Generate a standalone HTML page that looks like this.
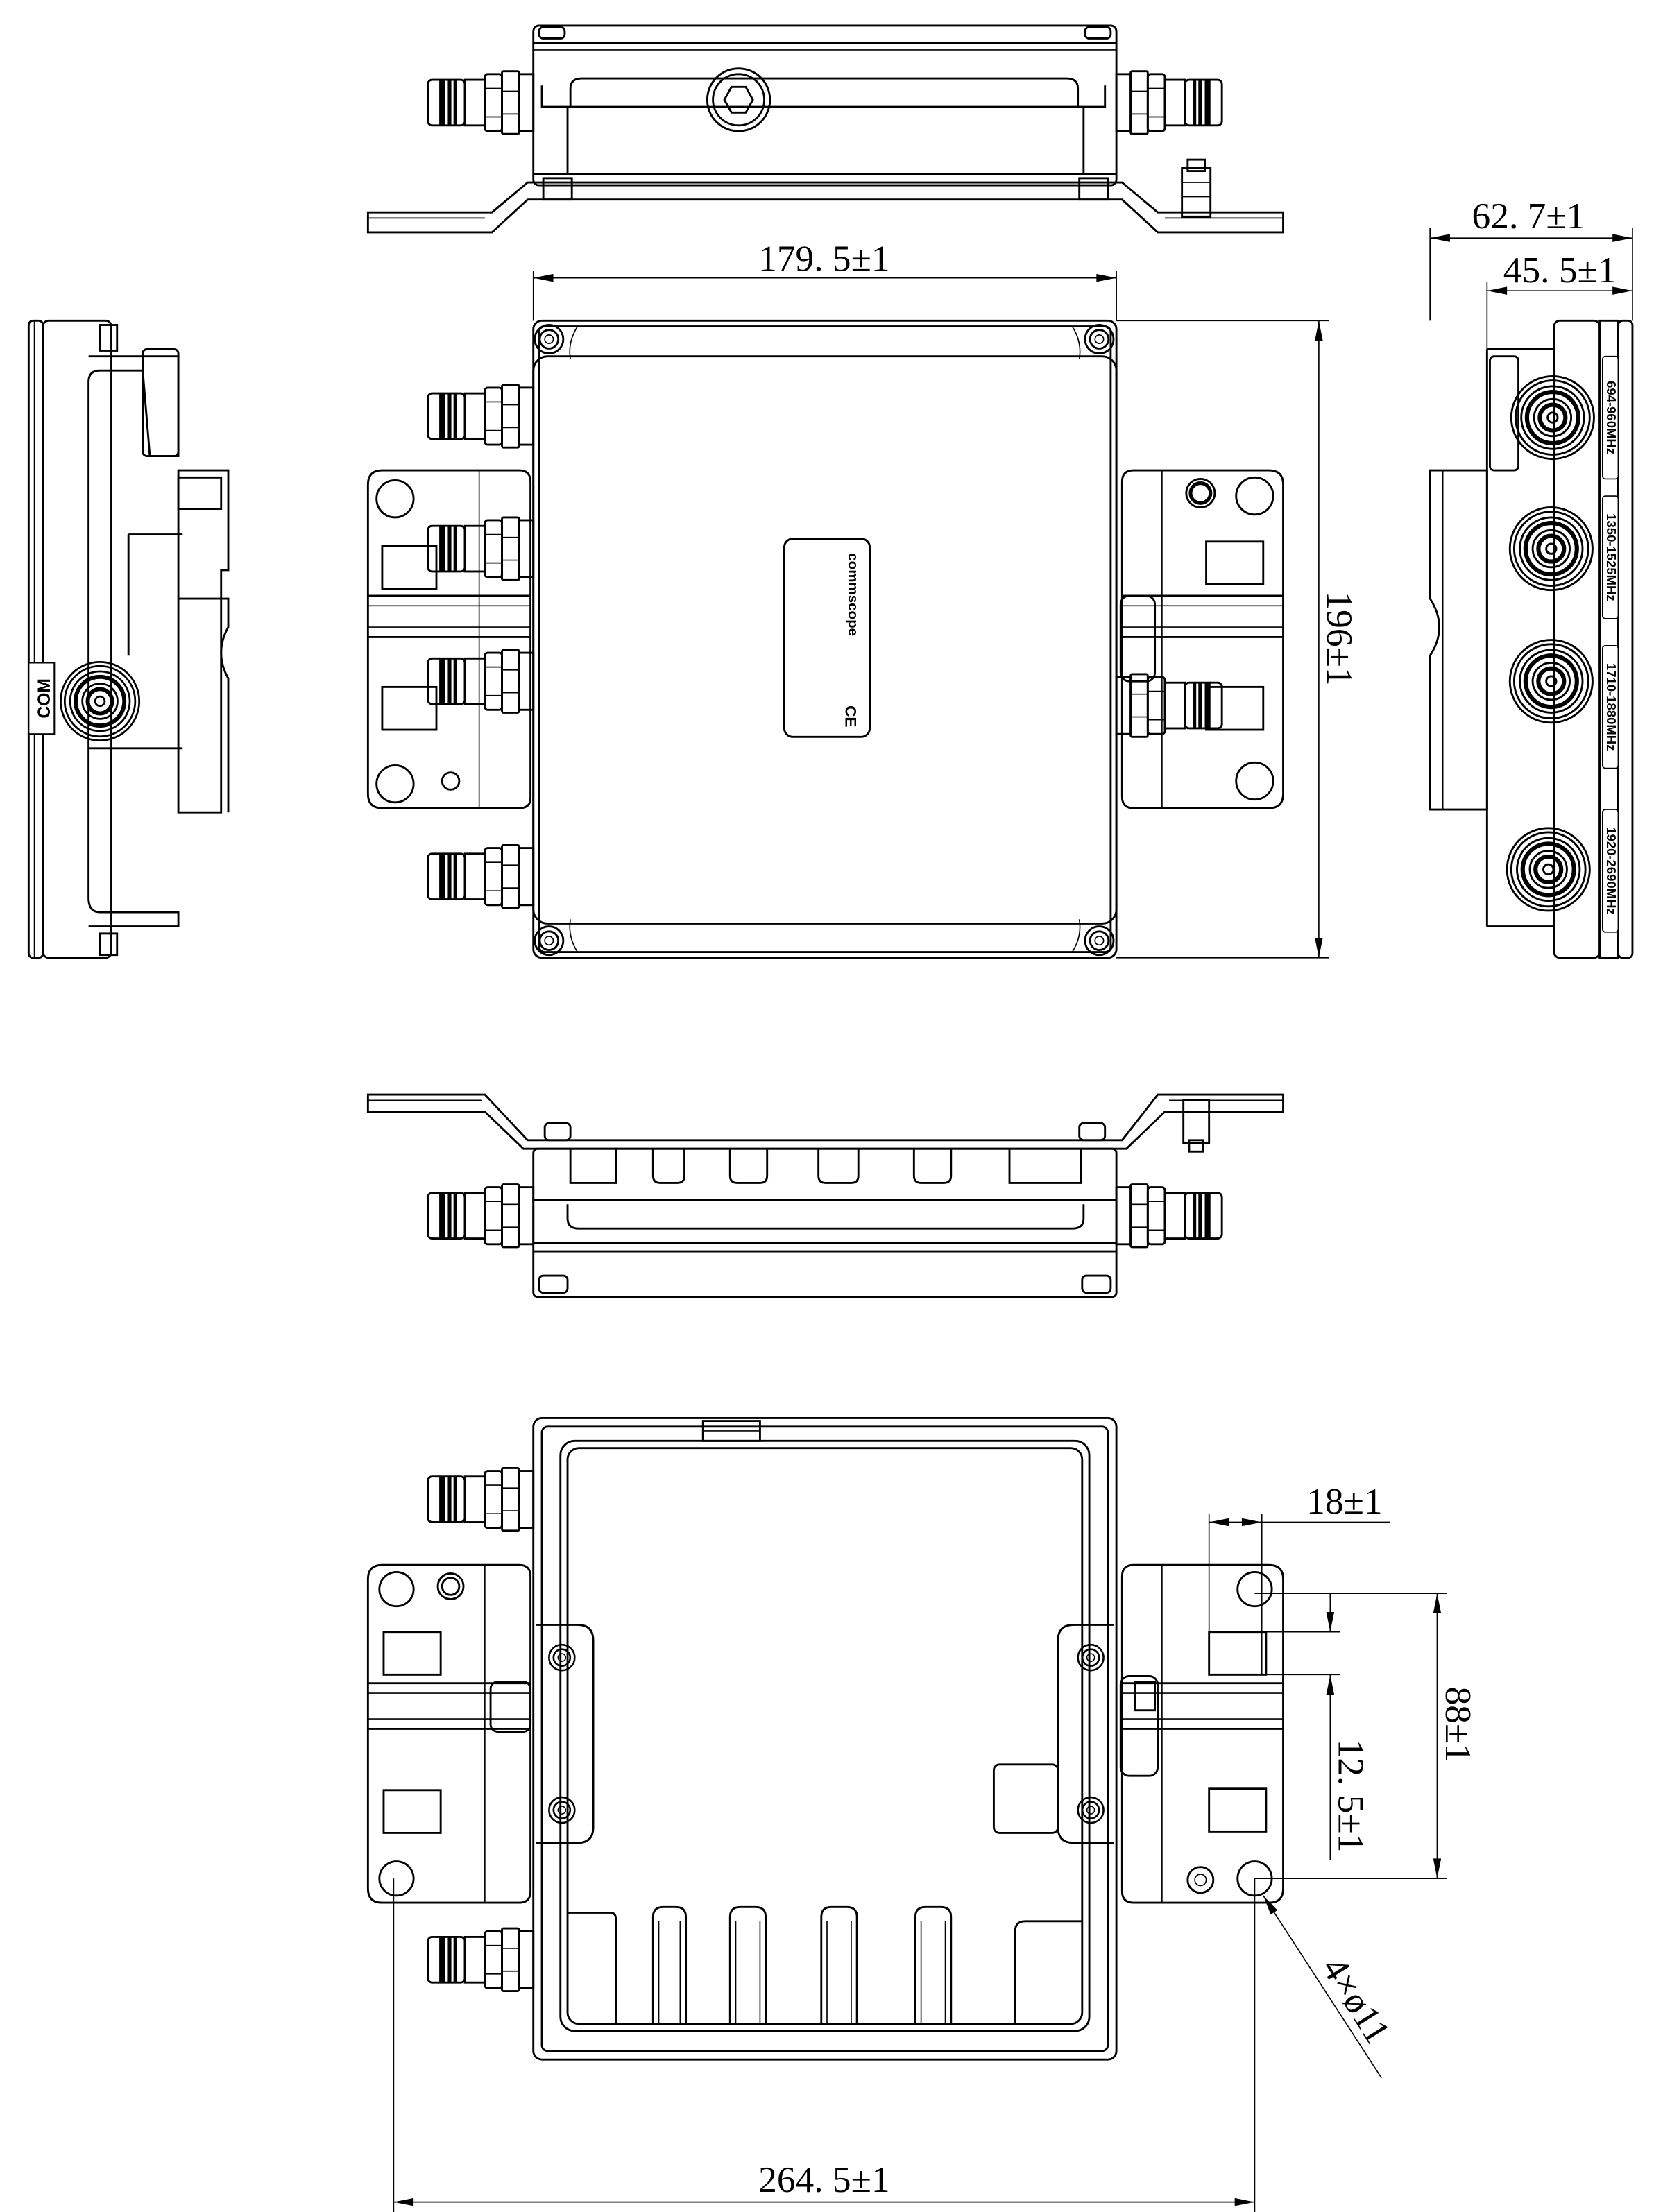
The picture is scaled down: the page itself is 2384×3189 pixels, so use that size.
<!DOCTYPE html>
<html><head><meta charset="utf-8">
<style>
html,body{margin:0;padding:0;background:#fff;}
svg{display:block;}
.l{fill:none;stroke:#000;stroke-width:1.4;}
.t{fill:none;stroke:#000;stroke-width:0.8;}
.d{fill:none;stroke:#000;stroke-width:0.8;}
.dt{font-family:"Liberation Serif","Noto Serif CJK SC",serif;font-size:26px;fill:#000;}
</style></head>
<body>
<svg width="2384" height="3189" viewBox="0 0 1160 1552" xmlns="http://www.w3.org/2000/svg">
<defs>
<marker id="ar" viewBox="0 0 10 4" refX="10" refY="2" markerWidth="16" markerHeight="5.6" orient="auto-start-reverse" markerUnits="userSpaceOnUse"><path d="M0,0 L10,2 L0,4 z" fill="#000"/></marker>
<g id="cL">
 <rect class="l" x="-22" y="-22" width="12" height="44" rx="1"/>
 <rect class="l" x="-10" y="-20" width="10" height="40"/>
 <rect class="l" x="-34" y="-20" width="12" height="40" rx="2"/>
 <line class="t" x1="-34" y1="-10" x2="-22" y2="-10"/><line class="t" x1="-34" y1="10" x2="-22" y2="10"/>
 <rect class="l" x="-48" y="-16" width="14" height="32"/>
 <rect class="l" x="-74" y="-16" width="26" height="32" rx="3"/>
 <rect x="-66" y="-16" width="4" height="32" fill="#000"/>
 <rect x="-60" y="-16" width="2.5" height="32" fill="#000"/>
 <rect x="-56" y="-16" width="2.5" height="32" fill="#000"/>
 <line class="t" x1="-22" y1="-8" x2="-10" y2="-8"/><line class="t" x1="-22" y1="8" x2="-10" y2="8"/>
</g>
<g id="cR"><use href="#cL" transform="scale(-1,1)"/></g>
<g id="coax">
 <circle class="l" r="29"/><circle class="l" r="26"/><circle class="l" r="22"/>
 <circle cx="0" cy="0" r="18" fill="none" stroke="#000" stroke-width="3"/>
 <circle class="l" r="13"/><circle cx="0" cy="0" r="9" fill="none" stroke="#000" stroke-width="3"/>
 <circle class="l" r="3.5"/>
</g>
<g id="scr"><circle class="l" r="10"/><circle class="l" r="6.5"/><circle class="t" r="3"/></g>
</defs>

<!-- ============ TOP SIDE VIEW ============ -->
<g>
 <rect class="l" x="374" y="18" width="409" height="112" rx="4"/>
 <line class="l" x1="374" y1="30" x2="783" y2="30"/>
 <line class="t" x1="374" y1="35" x2="783" y2="35"/>
 <path class="l" d="M400,75 L400,62 Q400,55 408,55 L748,55 Q756,55 756,62 L756,75"/>
 <path class="l" d="M380,60 L380,75 L775,75 L775,60"/>
 <line class="l" x1="398" y1="75" x2="398" y2="122"/>
 <line class="l" x1="760" y1="75" x2="760" y2="122"/>
 <line class="l" x1="374" y1="122" x2="783" y2="122"/>
 <circle class="l" cx="518" cy="70" r="22"/><circle class="l" cx="518" cy="70" r="18"/>
 <polygon class="l" points="508,70 513,61 523,61 528,70 523,79 513,79"/>
 <rect class="l" x="378" y="19" width="18" height="8" rx="3"/><rect class="l" x="761" y="19" width="18" height="8" rx="3"/>
 <use href="#cL" transform="translate(374,72)"/>
 <use href="#cR" transform="translate(783,72)"/>
 <path class="l" d="M258,149 L345,149 L370,128 L787,128 L812,149 L900,149 L900,163 L812,163 L787,140 L370,140 L345,163 L258,163 Z"/>
 <line class="t" x1="258" y1="153" x2="340" y2="153"/><line class="t" x1="817" y1="153" x2="900" y2="153"/>
 <rect class="l" x="381" y="125" width="20" height="15"/><rect class="l" x="757" y="125" width="20" height="15"/>
 <rect class="l" x="829" y="118" width="20" height="34"/><rect class="l" x="833" y="112" width="12" height="8"/>
 <line class="t" x1="829" y1="128" x2="849" y2="128"/><line class="t" x1="829" y1="138" x2="849" y2="138"/>
</g>

<!-- dim 179.5 -->
<line class="d" x1="374" y1="190" x2="374" y2="225"/><line class="d" x1="783" y1="190" x2="783" y2="225"/>
<line class="d" x1="374" y1="195" x2="783" y2="195" marker-start="url(#ar)" marker-end="url(#ar)"/>
<text class="dt" x="578" y="190" text-anchor="middle">179. 5±1</text>

<!-- ============ MAIN FRONT VIEW ============ -->
<g>
 <rect class="l" x="374" y="225" width="409" height="447" rx="6"/>
 <rect class="l" x="378" y="229" width="401" height="439" rx="4"/>
 <rect class="l" x="374" y="250" width="409" height="398" rx="10"/>
 <path class="t" d="M405,229 Q398,240 400,252"/><path class="t" d="M752,229 Q759,240 757,252"/>
 <path class="t" d="M405,668 Q398,657 400,645"/><path class="t" d="M752,668 Q759,657 757,645"/>
 <use href="#scr" transform="translate(385,238)"/><use href="#scr" transform="translate(771,238)"/>
 <use href="#scr" transform="translate(385,660)"/><use href="#scr" transform="translate(771,660)"/>
 <rect class="l" x="550" y="378" width="60" height="139" rx="6"/>
 <text x="0" y="0" transform="translate(595,388) rotate(90)" font-family="Liberation Sans,sans-serif" font-size="10" font-weight="bold">commscope</text>
 <text x="0" y="0" transform="translate(593,495) rotate(90)" font-family="Liberation Sans,sans-serif" font-size="11" font-weight="bold">CE</text>
 <!-- left bracket -->
 <path class="l" d="M268,330 L364,330 Q372,330 372,338 L372,560 Q372,567 364,567 L268,567 Q258,567 258,557 L258,340 Q258,330 268,330 Z"/>
 <line class="l" x1="258" y1="418" x2="372" y2="418"/><line class="l" x1="258" y1="447" x2="372" y2="447"/>
 <line class="t" x1="258" y1="425" x2="372" y2="425"/><line class="t" x1="258" y1="440" x2="372" y2="440"/>
 <line class="t" x1="336" y1="330" x2="336" y2="567"/>
 <circle class="l" cx="277" cy="350" r="13"/><circle class="l" cx="277" cy="550" r="13"/><circle class="l" cx="316" cy="548" r="6"/>
 <rect class="l" x="268" y="383" width="38" height="30"/><rect class="l" x="268" y="482" width="38" height="30"/>
 <use href="#cL" transform="translate(374,292)"/>
 <use href="#cL" transform="translate(374,385)"/>
 <use href="#cL" transform="translate(374,478)"/>
 <use href="#cL" transform="translate(374,615)"/>
 <!-- right bracket -->
 <path class="l" d="M795,330 L890,330 Q900,330 900,340 L900,557 Q900,567 890,567 L795,567 Q787,567 787,559 L787,338 Q787,330 795,330 Z"/>
 <line class="l" x1="787" y1="418" x2="900" y2="418"/><line class="l" x1="787" y1="447" x2="900" y2="447"/>
 <line class="t" x1="787" y1="425" x2="900" y2="425"/><line class="t" x1="787" y1="440" x2="900" y2="440"/>
 <line class="t" x1="815" y1="330" x2="815" y2="567"/>
 <circle class="l" cx="842" cy="346" r="10"/><circle cx="842" cy="346" r="7" fill="none" stroke="#000" stroke-width="2.5"/>
 <circle class="l" cx="880" cy="348" r="13"/><circle class="l" cx="880" cy="548" r="13"/>
 <rect class="l" x="846" y="380" width="40" height="30"/><rect class="l" x="846" y="482" width="40" height="30"/>
 <rect class="l" x="786" y="418" width="24" height="60" rx="6"/>
 <use href="#cR" transform="translate(783,495)"/>
</g>

<!-- dim 196 -->
<line class="d" x1="783" y1="225" x2="932" y2="225"/><line class="d" x1="783" y1="672" x2="932" y2="672"/>
<line class="d" x1="925" y1="225" x2="925" y2="672" marker-start="url(#ar)" marker-end="url(#ar)"/>
<text class="dt" transform="translate(931,448) rotate(90)" text-anchor="middle">196±1</text>

<!-- ============ LEFT SIDE VIEW ============ -->
<g>
 <rect class="l" x="20" y="225" width="10" height="447" rx="3"/>
 <rect class="l" x="30" y="225" width="48" height="447" rx="4"/>
 <line class="t" x1="24" y1="225" x2="24" y2="672"/>
 <path class="l" d="M62,250 L125,250 L125,320 L105,320 L100,260 L70,260 Q62,260 62,268 L62,630 Q62,640 70,640 L125,640 L125,650 L62,650"/>
 <rect class="l" x="100" y="245" width="25" height="75" rx="3"/>
 <path class="l" d="M125,330 L160,330 L160,400 L155,400 L155,570 L125,570 Z"/>
 <path class="l" d="M125,420 L160,420 L160,440 Q150,458 160,476 L160,570"/>
 <rect class="l" x="125" y="335" width="30" height="22"/>
 <path class="l" d="M90,375 L128,375 M90,375 L90,460 M62,525 L128,525"/>
 <rect x="20" y="465" width="18" height="50" fill="#fff" stroke="#000" stroke-width="1"/>
 <text transform="translate(35,490) rotate(-90)" text-anchor="middle" font-family="Liberation Sans,sans-serif" font-size="12" font-weight="bold">COM</text>
 <use href="#coax" transform="translate(70,492) scale(0.95)"/>
 <rect class="l" x="70" y="655" width="12" height="15"/><rect class="l" x="70" y="228" width="12" height="18"/>
</g>

<!-- dims 62.7 / 45.5 -->
<line class="d" x1="1003" y1="160" x2="1003" y2="225"/>
<line class="d" x1="1145" y1="160" x2="1145" y2="225"/>
<line class="d" x1="1043" y1="198" x2="1043" y2="250"/>
<line class="d" x1="1003" y1="167" x2="1145" y2="167" marker-start="url(#ar)" marker-end="url(#ar)"/>
<text class="dt" x="1072" y="160" text-anchor="middle">62. 7±1</text>
<line class="d" x1="1043" y1="204" x2="1145" y2="204" marker-start="url(#ar)" marker-end="url(#ar)"/>
<text class="dt" x="1094" y="198" text-anchor="middle">45. 5±1</text>

<!-- ============ RIGHT SIDE VIEW ============ -->
<g>
 <rect class="l" x="1135" y="225" width="10" height="447" rx="3"/>
 <rect class="l" x="1122" y="225" width="13" height="447"/>
 <rect class="l" x="1090" y="225" width="32" height="447" rx="4"/>
 <line class="l" x1="1043" y1="245" x2="1043" y2="650"/>
 <path class="l" d="M1043,245 L1090,245 M1043,650 L1090,650"/>
 <rect class="l" x="1045" y="250" width="20" height="80" rx="3"/>
 <path class="l" d="M1003,330 L1043,330 L1043,568 L1003,568 L1003,460 Q1016,440 1003,420 Z"/>
 <line class="t" x1="1012" y1="330" x2="1012" y2="568"/>
 <use href="#coax" transform="translate(1089,293)"/>
 <use href="#coax" transform="translate(1088,385)"/>
 <use href="#coax" transform="translate(1088,478)"/>
 <use href="#coax" transform="translate(1086,610)"/>
 <rect x="1124" y="250" width="11" height="86" fill="#fff" stroke="#000" stroke-width="0.8" rx="2"/>
 <rect x="1124" y="348" width="11" height="86" fill="#fff" stroke="#000" stroke-width="0.8" rx="2"/>
 <rect x="1124" y="453" width="11" height="86" fill="#fff" stroke="#000" stroke-width="0.8" rx="2"/>
 <rect x="1124" y="568" width="11" height="86" fill="#fff" stroke="#000" stroke-width="0.8" rx="2"/>
 <g font-family="Liberation Sans,sans-serif" font-size="9" font-weight="bold">
  <text transform="translate(1127,293) rotate(90)" text-anchor="middle">694-960MHz</text>
  <text transform="translate(1127,391) rotate(90)" text-anchor="middle">1350-1525MHz</text>
  <text transform="translate(1127,496) rotate(90)" text-anchor="middle">1710-1880MHz</text>
  <text transform="translate(1127,611) rotate(90)" text-anchor="middle">1920-2690MHz</text>
 </g>
</g>

<!-- ============ BOTTOM SIDE VIEW ============ -->
<g>
 <path class="l" d="M258,768 L340,768 L370,800 L787,800 L812,768 L900,768 L900,780 L817,780 L790,806 L367,806 L340,780 L258,780 Z"/>
 <line class="t" x1="258" y1="772" x2="338" y2="772"/><line class="t" x1="820" y1="772" x2="900" y2="772"/>
 <rect class="l" x="382" y="788" width="18" height="12" rx="3"/><rect class="l" x="757" y="788" width="18" height="12" rx="3"/>
 <rect class="l" x="830" y="772" width="18" height="30"/><rect class="l" x="834" y="800" width="10" height="8"/>
 <rect class="l" x="374" y="806" width="409" height="104" rx="3"/>
 <path class="l" d="M398,845 L398,855 Q398,862 406,862 L752,862 Q760,862 760,855 L760,845"/>
 <line class="l" x1="374" y1="842" x2="783" y2="842"/>
 <line class="l" x1="374" y1="872" x2="783" y2="872"/>
 <line class="l" x1="374" y1="878" x2="783" y2="878"/>
 <path class="l" d="M400,806 L400,830 L432,830 L432,806"/>
 <path class="l" d="M458,806 L458,825 Q458,830 463,830 L475,830 Q480,830 480,825 L480,806"/>
 <path class="l" d="M512,806 L512,825 Q512,830 517,830 L533,830 Q538,830 538,825 L538,806"/>
 <path class="l" d="M574,806 L574,825 Q574,830 579,830 L597,830 Q602,830 602,825 L602,806"/>
 <path class="l" d="M641,806 L641,825 Q641,830 646,830 L662,830 Q667,830 667,825 L667,806"/>
 <path class="l" d="M708,806 L708,830 L758,830 L758,806"/>
 <rect class="l" x="378" y="895" width="20" height="12" rx="3"/><rect class="l" x="759" y="895" width="20" height="12" rx="3"/>
 <use href="#cL" transform="translate(374,853)"/>
 <use href="#cR" transform="translate(783,853)"/>
</g>

<!-- ============ BOTTOM (BASE) VIEW ============ -->
<g>
 <rect class="l" x="374" y="995" width="409" height="450" rx="6"/>
 <rect class="l" x="380" y="1001" width="397" height="438" rx="4"/>
 <rect class="l" x="398" y="1016" width="361" height="404" rx="8"/>
 <rect class="l" x="393" y="1011" width="371" height="414" rx="10"/>
 <rect class="l" x="493" y="997" width="40" height="14"/><line class="t" x1="493" y1="1004" x2="533" y2="1004"/>
 <path class="l" d="M398,1342 L428,1342 Q432,1342 432,1347 L432,1420"/>
 <path class="l" d="M458,1420 L458,1345 Q458,1338 465,1338 L474,1338 Q481,1338 481,1345 L481,1420"/>
 <path class="l" d="M512,1420 L512,1345 Q512,1338 519,1338 L530,1338 Q537,1338 537,1345 L537,1420"/>
 <path class="l" d="M576,1420 L576,1345 Q576,1338 583,1338 L594,1338 Q601,1338 601,1345 L601,1420"/>
 <path class="l" d="M642,1420 L642,1345 Q642,1338 649,1338 L660,1338 Q667,1338 667,1345 L667,1420"/>
 <path class="l" d="M712,1420 L712,1355 Q712,1348 719,1348 L759,1348"/>
 <path class="t" d="M462,1420 L462,1348 M477,1420 L477,1348 M516,1420 L516,1348 M533,1420 L533,1348 M580,1420 L580,1348 M597,1420 L597,1348 M646,1420 L646,1348 M663,1420 L663,1348"/>
 <path class="l" d="M268,1098 L364,1098 Q372,1098 372,1106 L372,1327 Q372,1335 364,1335 L268,1335 Q258,1335 258,1325 L258,1108 Q258,1098 268,1098 Z"/>
 <line class="l" x1="258" y1="1181" x2="372" y2="1181"/><line class="l" x1="258" y1="1213" x2="372" y2="1213"/>
 <line class="t" x1="258" y1="1188" x2="372" y2="1188"/><line class="t" x1="258" y1="1206" x2="372" y2="1206"/>
 <line class="t" x1="340" y1="1098" x2="340" y2="1335"/>
 <circle class="l" cx="278" cy="1115" r="12"/><circle class="l" cx="316" cy="1113" r="9"/><circle class="l" cx="316" cy="1113" r="6"/>
 <circle class="l" cx="278" cy="1318" r="12"/>
 <rect class="l" x="269" y="1145" width="40" height="30"/><rect class="l" x="269" y="1256" width="40" height="30"/>
 <rect class="l" x="344" y="1180" width="28" height="35" rx="5"/>
 <path class="l" d="M376,1140 L405,1140 Q416,1140 416,1151 L416,1282 Q416,1293 405,1293 L376,1293"/>
 <use href="#scr" transform="translate(394,1163) scale(0.9)"/><use href="#scr" transform="translate(394,1270) scale(0.9)"/>
 <use href="#cL" transform="translate(374,1052)"/>
 <use href="#cL" transform="translate(374,1375)"/>
 <path class="l" d="M795,1098 L890,1098 Q900,1098 900,1108 L900,1325 Q900,1335 890,1335 L795,1335 Q787,1335 787,1327 L787,1106 Q787,1098 795,1098 Z"/>
 <line class="l" x1="787" y1="1181" x2="900" y2="1181"/><line class="l" x1="787" y1="1213" x2="900" y2="1213"/>
 <line class="t" x1="787" y1="1188" x2="900" y2="1188"/><line class="t" x1="787" y1="1206" x2="900" y2="1206"/>
 <line class="t" x1="815" y1="1098" x2="815" y2="1335"/>
 <circle class="l" cx="880" cy="1115" r="12"/><circle class="l" cx="880" cy="1318" r="12"/>
 <circle class="l" cx="842" cy="1319" r="9"/><circle class="t" cx="842" cy="1319" r="4"/>
 <rect class="l" x="848" y="1145" width="40" height="30"/><rect class="l" x="848" y="1255" width="40" height="30"/>
 <rect class="l" x="786" y="1176" width="26" height="70" rx="6"/>
 <rect class="l" x="796" y="1180" width="14" height="20"/>
 <path class="l" d="M781,1140 L753,1140 Q742,1140 742,1151 L742,1282 Q742,1293 753,1293 L781,1293"/>
 <rect class="l" x="697" y="1238" width="45" height="48" rx="4"/>
 <use href="#scr" transform="translate(765,1163) scale(0.9)"/><use href="#scr" transform="translate(765,1270) scale(0.9)"/>
</g>

<!-- dims bottom -->
<line class="d" x1="276" y1="1318" x2="276" y2="1552"/>
<line class="d" x1="880" y1="1318" x2="880" y2="1552"/>
<line class="d" x1="276" y1="1545" x2="880" y2="1545" marker-start="url(#ar)" marker-end="url(#ar)"/>
<text class="dt" x="578" y="1538" text-anchor="middle">264. 5±1</text>

<line class="d" x1="848" y1="1062" x2="848" y2="1175"/>
<line class="d" x1="885" y1="1062" x2="885" y2="1175"/>
<line class="d" x1="848" y1="1068" x2="885" y2="1068" marker-start="url(#ar)" marker-end="url(#ar)"/>
<line class="d" x1="885" y1="1068" x2="975" y2="1068"/>
<text class="dt" x="943" y="1062" text-anchor="middle">18±1</text>

<line class="d" x1="880" y1="1118" x2="1015" y2="1118"/>
<line class="d" x1="880" y1="1318" x2="1015" y2="1318"/>
<line class="d" x1="1008" y1="1118" x2="1008" y2="1318" marker-start="url(#ar)" marker-end="url(#ar)"/>
<text class="dt" transform="translate(1014,1210) rotate(90)" text-anchor="middle">88±1</text>

<line class="d" x1="885" y1="1145" x2="940" y2="1145"/>
<line class="d" x1="885" y1="1175" x2="940" y2="1175"/>
<line class="d" x1="933" y1="1118" x2="933" y2="1145" marker-end="url(#ar)"/>
<line class="d" x1="933" y1="1305" x2="933" y2="1175" marker-end="url(#ar)"/>
<text class="dt" transform="translate(939,1260) rotate(90)" text-anchor="middle">12. 5±1</text>

<line class="d" x1="969" y1="1458" x2="886" y2="1330" marker-end="url(#ar)"/>
<text class="dt" transform="translate(944,1408) rotate(58)" text-anchor="middle">4×ø11</text>
</svg>
</body></html>
